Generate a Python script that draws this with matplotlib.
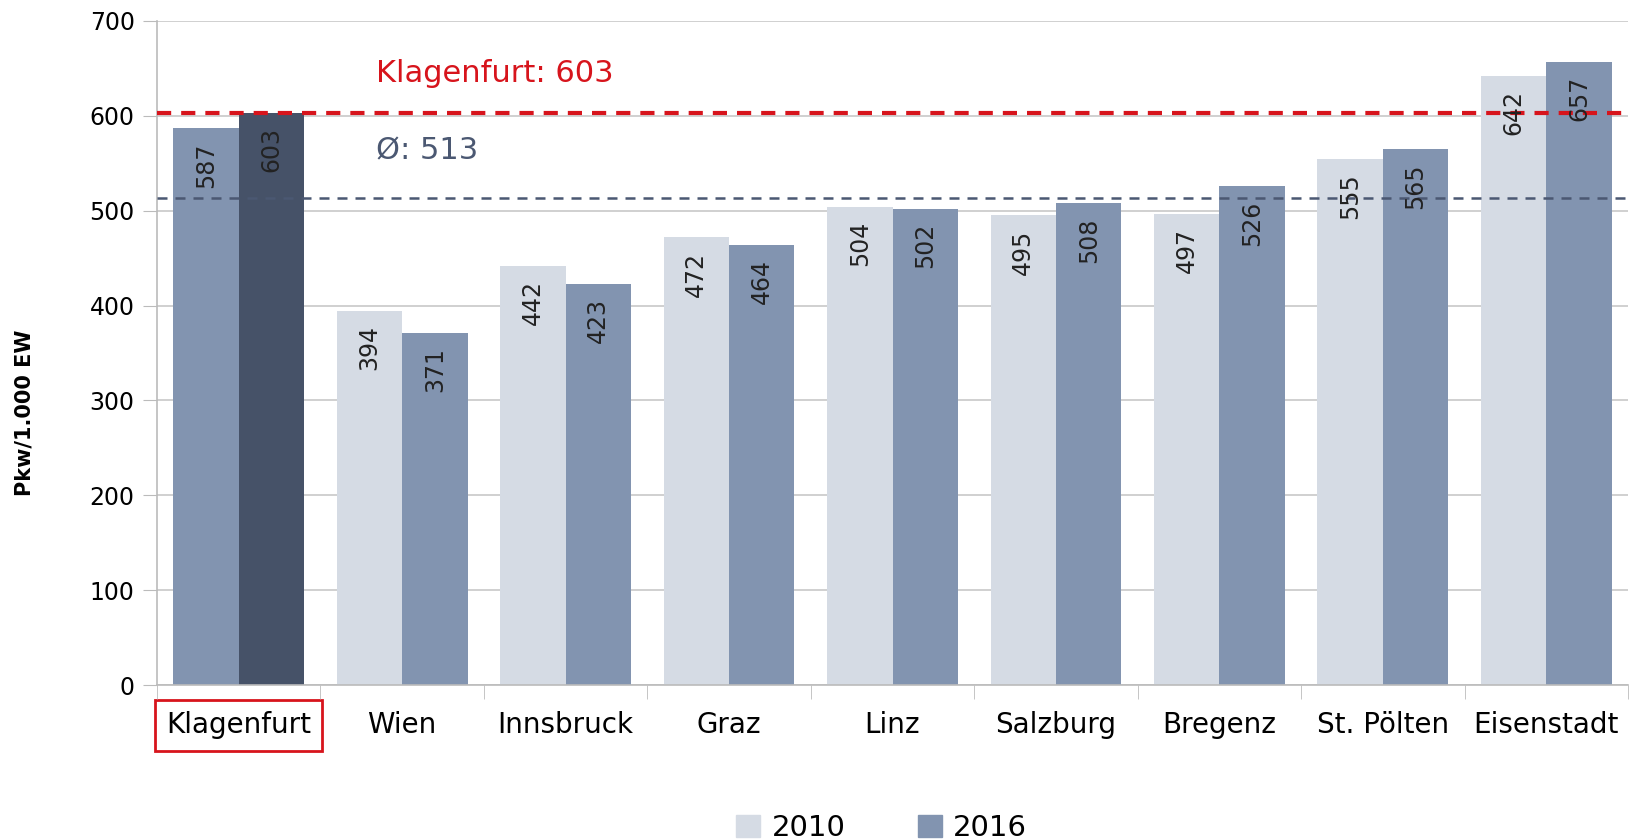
import numpy as np
import matplotlib
matplotlib.use('Agg')
import matplotlib.pyplot as plt
from matplotlib.patches import Patch

# data
cities = ['Klagenfurt', 'Wien', 'Innsbruck', 'Graz', 'Linz', 'Salzburg', 'Bregenz', 'St. Pölten', 'Eisenstadt']
values_2010 = [587, 394, 442, 472, 504, 495, 497, 555, 642]
values_2016 = [603, 371, 423, 464, 502, 508, 526, 565, 657]
series_labels = ['2010', '2016']
klagenfurt_value = 603
average_value = 513

light = '#d5dbe4'
mid = '#8294b0'
dark = '#465268'
red = '#d7141c'

plt.rcParams['font.family'] = ['DejaVu Sans']

fig = plt.figure(figsize=(16.3, 8.39), dpi=100)
ax = fig.add_axes([0.0963, 0.1835, 0.9025, 0.7915])

x = np.arange(len(cities))
width = 0.4
colors_2010 = [mid] + [light] * (len(cities) - 1)
colors_2016 = [dark] + [mid] * (len(cities) - 1)
ax.bar(x - width / 2, values_2010, width, color=colors_2010, zorder=2)
ax.bar(x + width / 2, values_2016, width, color=colors_2016, zorder=2)

# value labels, rotated inside the bars
for i in range(len(cities)):
    ax.text(x[i] - width / 2, values_2010[i] - 15, str(values_2010[i]), rotation=90,
            ha='center', va='top', fontsize=17, color='#222222', zorder=4)
    ax.text(x[i] + width / 2, values_2016[i] - 15, str(values_2016[i]), rotation=90,
            ha='center', va='top', fontsize=17, color='#222222', zorder=4)

# reference lines
ax.axhline(klagenfurt_value, color=red, linestyle=(0, (3.4, 2.4)), linewidth=3.0, zorder=3)
ax.axhline(average_value, color='#4b5872', linestyle=(0, (4, 3.2)), linewidth=1.8, zorder=3)
ax.text(0.84, 645, 'Klagenfurt: {}'.format(klagenfurt_value), color=red, fontsize=22, va='center', ha='left')
ax.text(0.84, 563, '\u00d8: {}'.format(average_value), color='#4b5872', fontsize=22, va='center', ha='left')

ax.set_xlim(-0.5, len(cities) - 0.5)
ax.set_ylim(0, 700)
ax.set_yticks(np.arange(0, 701, 100))
ax.tick_params(axis='y', labelsize=17, length=10, color='#bbbbbb', pad=6)
ax.yaxis.grid(True, color='#c8c8c8', linewidth=1.2, zorder=0)
ax.set_axisbelow(True)

ax.set_xticks(x)
ax.set_xticklabels(cities, fontsize=20)
ax.tick_params(axis='x', length=0, pad=19)
ax.set_xticks(np.arange(-0.5, len(cities), 1), minor=True)
ax.tick_params(axis='x', which='minor', length=10, color='#bbbbbb')

for side in ['top', 'right']:
    ax.spines[side].set_visible(False)
for side in ['left', 'bottom']:
    ax.spines[side].set_color('#bbbbbb')
    ax.spines[side].set_linewidth(1.2)

ax.set_ylabel('Pkw/1.000 EW', fontsize=15, fontweight='bold')
ax.yaxis.set_label_coords(-0.083, 0.41)

# red box round the first category label
ax.get_xticklabels()[0].set_bbox(dict(facecolor='none', edgecolor=red, linewidth=2, pad=8))

handles = [Patch(color=light), Patch(color=mid)]
fig.legend(handles, series_labels, loc='lower center', ncol=2, frameon=False, fontsize=21,
           bbox_to_anchor=(0.541, -0.035), handlelength=0.8, handleheight=0.8, columnspacing=2.5, handletextpad=0.4)

fig.savefig('out.png', dpi=100)
